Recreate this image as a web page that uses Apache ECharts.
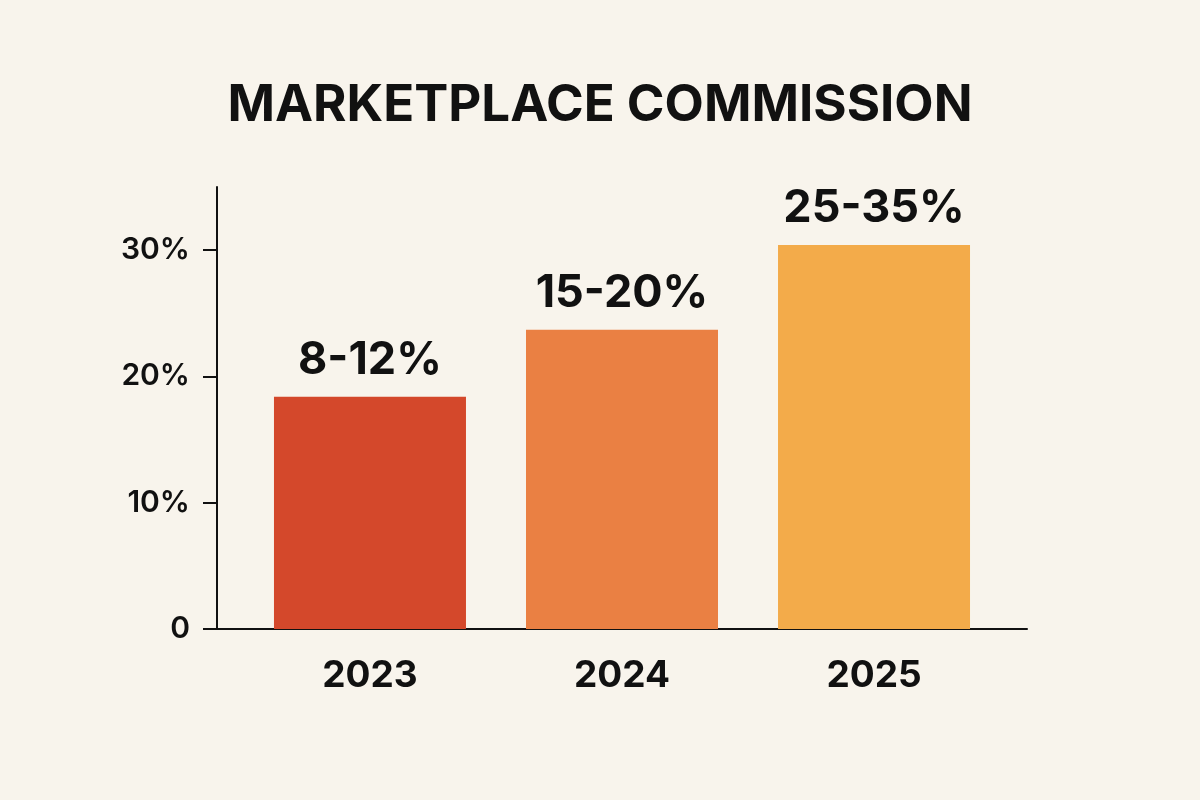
<!DOCTYPE html>
<html>
<head>
<meta charset="utf-8">
<script src="https://cdn.jsdelivr.net/npm/echarts@6/dist/echarts.min.js"></script>
<style>
html,body{margin:0;padding:0;background:#F8F4EC;}
#chart{width:1200px;height:800px;}
</style>
</head>
<body>
<div id="chart"></div>
<script>
const years = ['2023', '2024', '2025'];
const barValues = [18.4, 23.7, 30.4];
const rangeLabels = ['8-12%', '15-20%', '25-35%'];
const barColors = ['#D4482B', '#EA8043', '#F3AB4A'];
const yTicks = [0, 10, 20, 30];

const chart = echarts.init(document.getElementById('chart'));
const font = 'Inter, "Noto Sans", "Liberation Sans", sans-serif';

chart.setOption({
  backgroundColor: '#F8F4EC',
  animation: false,
  title: {
    text: 'MARKETPLACE COMMISSION',
    left: 'center',
    top: 75,
    textStyle: { fontFamily: font, fontSize: 51, fontWeight: 700, color: '#111111' }
  },
  grid: { left: 217, right: 173, top: 187, bottom: 171, containLabel: false },
  xAxis: {
    type: 'value',
    min: -0.607,
    max: 2.607,
    splitLine: { show: false },
    axisLine: { show: true, onZero: false, lineStyle: { color: '#111111', width: 2 } },
    axisTick: { show: false },
    axisLabel: {
      customValues: [0, 1, 2],
      formatter: v => years[Math.round(v)],
      margin: 28,
      fontFamily: font, fontSize: 37, fontWeight: 700, color: '#111111'
    }
  },
  yAxis: {
    type: 'value',
    min: 0,
    max: 35,
    splitLine: { show: false },
    axisLine: { show: true, onZero: false, lineStyle: { color: '#111111', width: 2 } },
    axisTick: { show: true, customValues: yTicks, length: 14, lineStyle: { color: '#111111', width: 2 } },
    axisLabel: {
      customValues: yTicks,
      formatter: v => v === 0 ? '0' : v + '%',
      margin: 27,
      fontFamily: font, fontSize: 30, fontWeight: 600, color: '#111111'
    }
  },
  series: [{
    type: 'bar',
    barWidth: 192,
    data: barValues.map((v, i) => ({
      value: [i, v],
      itemStyle: { color: barColors[i] }
    })),
    label: {
      show: true,
      position: 'top',
      distance: 14,
      formatter: p => rangeLabels[p.dataIndex],
      fontFamily: font, fontSize: 45, fontWeight: 700, color: '#111111'
    }
  }]
});
</script>
</body>
</html>
